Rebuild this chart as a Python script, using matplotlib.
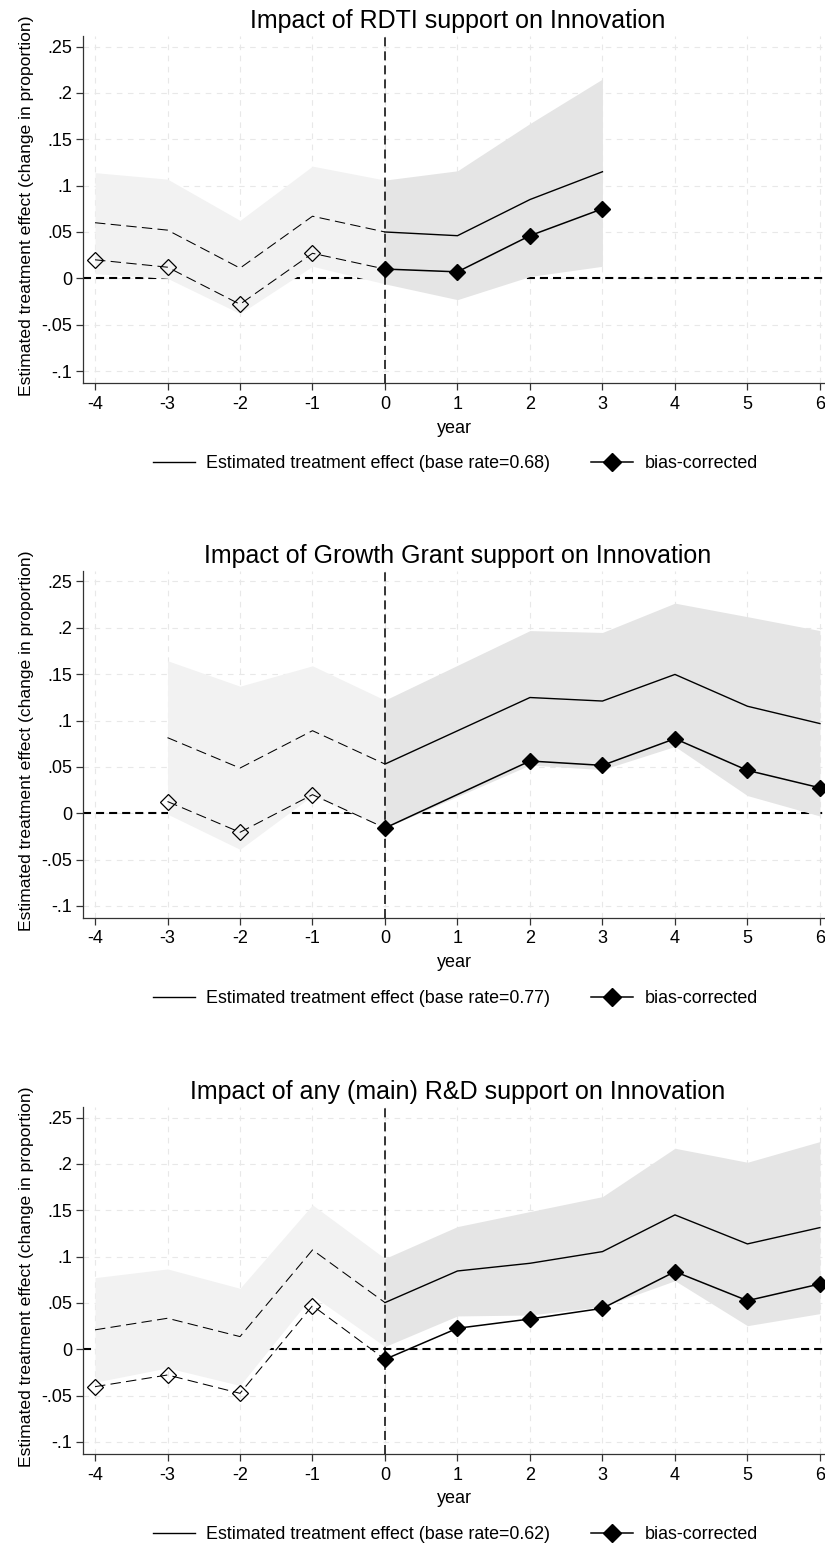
import numpy as np
import matplotlib
matplotlib.use("Agg")
import matplotlib.pyplot as plt
from matplotlib.lines import Line2D

plt.rcParams['font.family'] = ['Liberation Sans', 'DejaVu Sans']
plt.rcParams['lines.scale_dashes'] = False
plt.rcParams['axes.unicode_minus'] = False

# event-time estimates for each support programme
years_rdti = [-4, -3, -2, -1, 0, 1, 2, 3]
est_rdti = [0.060, 0.052, 0.011, 0.067, 0.050, 0.046, 0.085, 0.115]
lower_rdti = [0.005, 0.000, -0.038, 0.013, -0.006, -0.023, 0.002, 0.013]
upper_rdti = [0.114, 0.107, 0.0625, 0.121, 0.106, 0.116, 0.167, 0.215]
bias_rdti = [0.020, 0.012, -0.028, 0.027, 0.010, 0.007, 0.046, 0.075]

# growth grant: no estimate for year 1
years_gg = [-3, -2, -1, 0, 2, 3, 4, 5, 6]
est_gg = [0.0815, 0.0487, 0.089, 0.053, 0.1248, 0.121, 0.1497, 0.1154, 0.0967]
lower_gg = [-0.001, -0.039, 0.019, -0.016, 0.052, 0.047, 0.072, 0.019, -0.003]
upper_gg = [0.1645, 0.137, 0.159, 0.122, 0.197, 0.195, 0.2266, 0.212, 0.197]
bias_gg = [0.0126, -0.0206, 0.020, -0.016, 0.0563, 0.0516, 0.0804, 0.0462, 0.0274]

years_any = [-4, -3, -2, -1, 0, 1, 2, 3, 4, 5, 6]
est_any = [0.021, 0.0335, 0.0137, 0.1072, 0.0504, 0.0845, 0.0928, 0.1054, 0.145, 0.1137, 0.1313]
lower_any = [-0.0355, -0.020, -0.039, 0.058, 0.003, 0.036, 0.037, 0.046, 0.074, 0.0255, 0.0385]
upper_any = [0.0773, 0.0867, 0.0658, 0.1558, 0.098, 0.1324, 0.1486, 0.1647, 0.2169, 0.2018, 0.2241]
bias_any = [-0.0403, -0.0277, -0.0475, 0.0471, -0.0108, 0.0227, 0.0327, 0.0442, 0.0838, 0.0525, 0.0705]

titles = ['Impact of RDTI support on Innovation',
          'Impact of Growth Grant support on Innovation',
          'Impact of any (main) R&D support on Innovation']
base_rates = ['0.68', '0.77', '0.62']

ytick_vals = [-0.1, -0.05, 0, 0.05, 0.1, 0.15, 0.2, 0.25]
ytick_labels = ['-.1', '-.05', '0', '.05', '.1', '.15', '.2', '.25']
xtick_vals = list(range(-4, 7))

panels = [
    (years_rdti, est_rdti, lower_rdti, upper_rdti, bias_rdti),
    (years_gg, est_gg, lower_gg, upper_gg, bias_gg),
    (years_any, est_any, lower_any, upper_any, bias_any),
]


def draw_panel(ax, years, est, lower, upper, bias, title, rate):
    years = np.array(years)
    est, lower, upper, bias = map(np.array, (est, lower, upper, bias))
    pre = years <= 0
    post = years >= 0

    ax.fill_between(years[pre], lower[pre], upper[pre], color='#f2f2f2', lw=0, zorder=2)
    ax.fill_between(years[post], lower[post], upper[post], color='#e5e5e5', lw=0, zorder=2)

    ax.axhline(0, color='black', lw=1.5, ls=(0, (5.8, 3.6)), zorder=1.5)
    ax.axvline(0, color='black', lw=1.1, ls=(0, (6.5, 3.6)), zorder=5)

    # pre-treatment leads: dashed, hollow markers
    ax.plot(years[pre], est[pre], color='black', lw=0.75, ls=(0, (7.5, 3.8)), zorder=3)
    n_pre = pre.sum()
    ax.plot(years[pre], bias[pre], color='black', lw=0.75, ls=(0, (7.5, 3.8)),
            marker='D', ms=8.2, mfc='none', mec='black', mew=0.9,
            markevery=list(range(n_pre - 1)), zorder=3)

    # post-treatment lags: solid, filled markers
    ax.plot(years[post], est[post], color='black', lw=1.0, zorder=3)
    ax.plot(years[post], bias[post], color='black', lw=1.1,
            marker='D', ms=8.6, mfc='black', mec='black', zorder=4)

    ax.set_xlim(-4.166, 6.07)
    ax.set_ylim(-0.113, 0.261)
    ax.set_xticks(xtick_vals)
    ax.set_yticks(ytick_vals)
    ax.set_yticklabels(ytick_labels)
    ax.grid(True, color='#e8e8e8', lw=0.8, ls=(0, (4, 4)), zorder=0)
    ax.set_axisbelow(True)

    for side in ('top', 'right'):
        ax.spines[side].set_visible(False)
    for side in ('left', 'bottom'):
        ax.spines[side].set_color('#333333')
        ax.spines[side].set_linewidth(0.9)
    ax.tick_params(axis='both', direction='out', length=5, width=0.9,
                   color='#333333', labelsize=13, pad=3)
    ax.tick_params(axis='x', pad=4)

    ax.set_xlabel('year', fontsize=13, labelpad=5)
    ax.set_ylabel('Estimated treatment effect (change in proportion)', fontsize=12.6)
    ax.yaxis.set_label_coords(-0.066, 0.512)
    ax.yaxis.label.set_va('bottom')

    ax.set_title(title, fontsize=18, pad=6, x=0.505)

    handles = [
        Line2D([], [], color='black', lw=1.0),
        Line2D([], [], color='black', lw=1.1, marker='D', ms=9.5, mfc='black'),
    ]
    labels = ['Estimated treatment effect (base rate=%s)' % rate, 'bias-corrected']
    ax.legend(handles, labels, loc='center', bbox_to_anchor=(0.502, -0.232),
              ncol=2, frameon=False, fontsize=12.9, handlelength=2.3,
              handletextpad=0.65, columnspacing=2.3)


fig = plt.figure(figsize=(8.25, 15.49), dpi=100)
bottoms = [0.7527, 0.4074, 0.0613]
for (years, est, lower, upper, bias), title, rate, b in zip(panels, titles, base_rates, bottoms):
    ax = fig.add_axes([0.1006, b, 0.8994, 0.2238])
    draw_panel(ax, years, est, lower, upper, bias, title, rate)

fig.savefig('out.png', dpi=100, facecolor='white')
